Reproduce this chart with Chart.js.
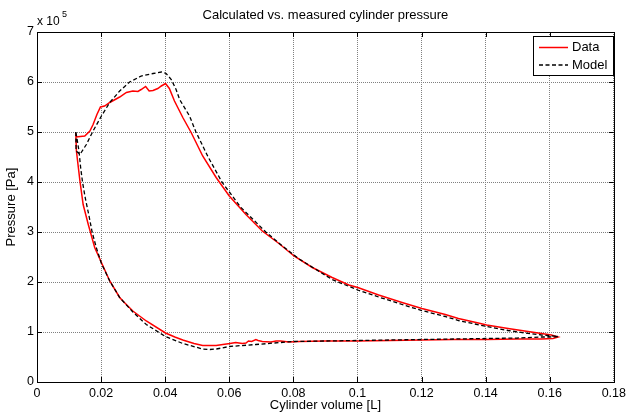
<!DOCTYPE html>
<html>
<head>
<meta charset="utf-8">
<script src="https://cdn.jsdelivr.net/npm/chart.js@4"></script>
<style>
  body { margin: 0; background: #fff; }
  canvas { display: block; }
</style>
</head>
<body>
<canvas id="pvChart" width="630" height="413"></canvas>
<script>
// measured loop (volume in L, pressure in 1e5 Pa)
const dataV = [0.0121, 0.0149, 0.0165, 0.0175, 0.0187, 0.0198, 0.0211, 0.0227, 0.0258, 0.0279,
  0.0299, 0.0315, 0.0325, 0.0339, 0.0350, 0.0362, 0.0377, 0.0388, 0.0401, 0.0413,
  0.0429, 0.0455, 0.0481, 0.0517, 0.0559, 0.0600, 0.0652, 0.0703, 0.0755, 0.0802,
  0.0859, 0.0921, 0.0973, 0.1001, 0.1066, 0.1139, 0.1201, 0.1274, 0.1315, 0.1377,
  0.1403, 0.1470, 0.1522, 0.1574, 0.1605, 0.1626,
  0.1610, 0.1574, 0.1500, 0.1400, 0.1300, 0.1200, 0.1100, 0.1000, 0.0900, 0.0820,
  0.0786, 0.0760, 0.0746, 0.0730, 0.0703, 0.0690, 0.0683, 0.0670, 0.0660, 0.0652,
  0.0641, 0.0620, 0.0602, 0.0580, 0.0559, 0.0517, 0.0490, 0.0455, 0.0430, 0.0401,
  0.0341, 0.0299, 0.0268, 0.0258, 0.0227, 0.0201, 0.0180, 0.0160, 0.0144, 0.0134,
  0.0123, 0.0121];
const dataP = [4.90, 4.92, 5.02, 5.15, 5.35, 5.50, 5.52, 5.59, 5.70, 5.79,
  5.82, 5.81, 5.85, 5.91, 5.82, 5.83, 5.87, 5.92, 5.97, 5.87,
  5.62, 5.29, 4.99, 4.52, 4.09, 3.72, 3.35, 3.02, 2.77, 2.52,
  2.29, 2.09, 1.94, 1.89, 1.74, 1.59, 1.47, 1.35, 1.27, 1.18,
  1.14, 1.07, 1.02, 0.97, 0.94, 0.90,
  0.87, 0.86, 0.86, 0.85, 0.85, 0.84, 0.83, 0.82, 0.82, 0.81,
  0.80, 0.82, 0.82, 0.80, 0.81, 0.83, 0.85, 0.81, 0.82, 0.78,
  0.77, 0.79, 0.77, 0.75, 0.73, 0.73, 0.77, 0.84, 0.90, 0.98,
  1.22, 1.42, 1.62, 1.69, 2.02, 2.39, 2.69, 3.15, 3.55, 4.02,
  4.62, 4.98];

// model loop
const modelV = [0.0121, 0.0122, 0.0134, 0.0154, 0.0175, 0.0201, 0.0227, 0.0258, 0.0289, 0.0325,
  0.0362, 0.0388, 0.0403, 0.0419, 0.0434, 0.0445, 0.0476, 0.0496, 0.0534, 0.0577,
  0.0635, 0.0714, 0.0766, 0.0818, 0.0921, 0.1001, 0.1066, 0.1139, 0.1201, 0.1274,
  0.1315, 0.1403, 0.1470, 0.1522, 0.1574, 0.1595, 0.1626,
  0.1600, 0.1574, 0.1500, 0.1400, 0.1300, 0.1200, 0.1100, 0.1000, 0.0900, 0.0800,
  0.0683, 0.0600, 0.0560, 0.0540, 0.0517, 0.0455, 0.0401, 0.0341, 0.0299, 0.0258,
  0.0227, 0.0201, 0.0185, 0.0172, 0.0163, 0.0150, 0.0142, 0.0136, 0.0131, 0.0124,
  0.0121];
const modelP = [5.00, 4.62, 4.55, 4.75, 5.02, 5.32, 5.59, 5.82, 6.00, 6.12,
  6.17, 6.20, 6.17, 6.05, 5.85, 5.65, 5.32, 5.00, 4.50, 4.00,
  3.50, 3.00, 2.72, 2.46, 2.05, 1.84, 1.70, 1.55, 1.43, 1.31,
  1.23, 1.11, 1.03, 0.98, 0.94, 0.93, 0.91,
  0.90, 0.90, 0.88, 0.87, 0.86, 0.85, 0.84, 0.83, 0.82, 0.81,
  0.75, 0.71, 0.66, 0.65, 0.66, 0.77, 0.91, 1.15, 1.40, 1.69,
  2.02, 2.37, 2.69, 3.00, 3.30, 3.70, 4.00, 4.30, 4.62, 4.90,
  5.00];

const xTickLabels = ["0", "0.02", "0.04", "0.06", "0.08", "0.1", "0.12", "0.14", "0.16", "0.18"];
const yTickLabels = ["0", "1", "2", "3", "4", "5", "6", "7"];
const seriesNames = ["Data", "Model"];

const FONT = "'Liberation Sans', Arial, sans-serif";
Chart.defaults.font.family = FONT;
Chart.defaults.font.size = 13;
Chart.defaults.color = "#000";

const toPoints = (xs, ys) => xs.map((v, i) => ({ x: v, y: ys[i] }));

// inward ticks, box, exponent and legend like matlab
const matlabAxes = {
    id: "matlabAxes",
    afterDatasetsDraw(chart) {
        const { ctx, chartArea: a, scales } = chart;
        ctx.save();
        ctx.strokeStyle = "#000";
        ctx.lineWidth = 1;
        ctx.setLineDash([]);
        ctx.beginPath();
        scales.x.ticks.forEach(t => {
            const px = Math.round(scales.x.getPixelForValue(t.value)) + 0.5;
            ctx.moveTo(px, a.bottom); ctx.lineTo(px, a.bottom - 5);
            ctx.moveTo(px, a.top); ctx.lineTo(px, a.top + 5);
        });
        scales.y.ticks.forEach(t => {
            const py = Math.round(scales.y.getPixelForValue(t.value)) + 0.5;
            ctx.moveTo(a.left, py); ctx.lineTo(a.left + 5, py);
            ctx.moveTo(a.right, py); ctx.lineTo(a.right - 5, py);
        });
        ctx.stroke();
        ctx.strokeRect(Math.round(a.left) + 0.5, Math.round(a.top) + 0.5,
            Math.round(a.right - a.left), Math.round(a.bottom - a.top));

        // exponent label
        ctx.fillStyle = "#000";
        ctx.textBaseline = "middle";
        ctx.font = "12px " + FONT;
        ctx.fillText("x 10", a.left, 22);
        ctx.font = "9px " + FONT;
        ctx.fillText("5", a.left + 25, 15);

        // legend
        const lx = 533.5, ly = 36.5, lw = 80, lh = 39;
        ctx.fillStyle = "#fff";
        ctx.fillRect(lx, ly, lw, lh);
        ctx.strokeStyle = "#000";
        ctx.lineWidth = 1;
        ctx.strokeRect(lx, ly, lw, lh);
        ctx.font = "13px " + FONT;
        chart.data.datasets.forEach((ds, i) => {
            const y = 47.5 + i * 17.5;
            ctx.strokeStyle = ds.borderColor;
            ctx.lineWidth = ds.borderWidth;
            ctx.setLineDash(ds.borderDash || []);
            ctx.beginPath();
            ctx.moveTo(539, y); ctx.lineTo(568, y);
            ctx.stroke();
            ctx.fillStyle = "#000";
            ctx.fillText(ds.label, 572, y);
        });
        ctx.restore();
    }
};

new Chart(document.getElementById("pvChart"), {
    type: "scatter",
    data: {
        datasets: [
            {
                label: seriesNames[0],
                data: toPoints(dataV, dataP),
                showLine: true,
                borderColor: "#ff0000",
                borderWidth: 1.5,
                pointRadius: 0,
                tension: 0,
                order: 1
            },
            {
                label: seriesNames[1],
                data: toPoints(modelV, modelP),
                showLine: true,
                borderColor: "#000000",
                borderWidth: 1.3,
                borderDash: [4, 2.5],
                pointRadius: 0,
                tension: 0,
                order: 0
            }
        ]
    },
    options: {
        responsive: false,
        animation: false,
        layout: { padding: { left: 0, right: 13, top: 0, bottom: 0 } },
        scales: {
            x: {
                type: "linear",
                min: 0,
                max: 0.18,
                ticks: {
                    stepSize: 0.02,
                    padding: 4,
                    maxRotation: 0,
                    font: { size: 12.5 },
                    callback: (v, i) => xTickLabels[i]
                },
                grid: { color: "#808080", drawTicks: false },
                border: { display: false, dash: [1, 1] },
                title: { display: true, text: "Cylinder volume [L]", padding: { top: 0, bottom: 0 } },
                afterFit: s => { s.height = 31; }
            },
            y: {
                type: "linear",
                min: 0,
                max: 7,
                ticks: {
                    stepSize: 1,
                    padding: 3,
                    font: { size: 12.5 },
                    callback: (v, i) => yTickLabels[i]
                },
                grid: { color: "#808080", drawTicks: false },
                border: { display: false, dash: [1, 1] },
                title: { display: true, text: "Pressure [Pa]", padding: { top: 4, bottom: 0 } },
                afterFit: s => { s.width = 37; }
            }
        },
        plugins: {
            legend: { display: false },
            tooltip: { enabled: false },
            title: {
                display: true,
                text: "Calculated vs. measured cylinder pressure",
                fullSize: false,
                font: { size: 13, weight: "normal" },
                padding: { top: 8, bottom: 8.4 }
            }
        }
    },
    plugins: [matlabAxes]
});
</script>
</body>
</html>
